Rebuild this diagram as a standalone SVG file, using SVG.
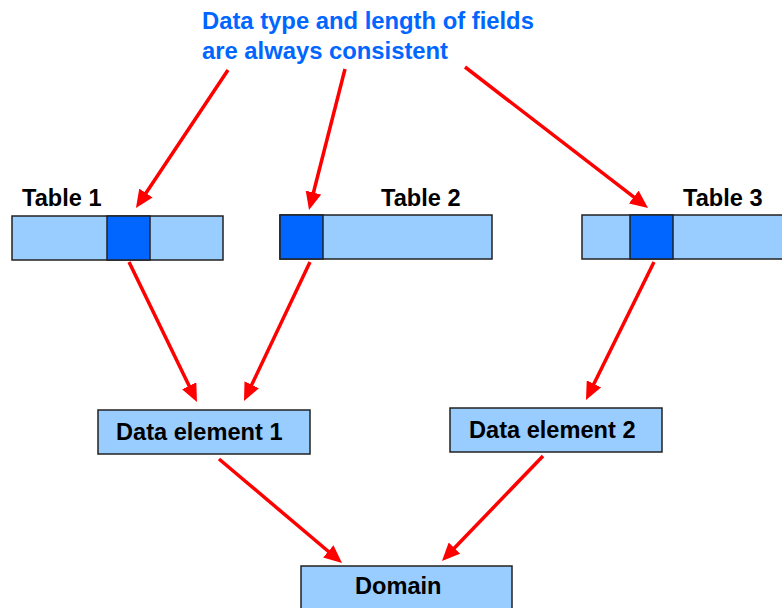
<svg xmlns="http://www.w3.org/2000/svg" width="782" height="608" viewBox="0 0 782 608">
<style>
  .lbl { font-family: "Liberation Sans", Arial, sans-serif; font-weight: bold; font-size: 23.6px; fill: #000; }
  .title { font-family: "Liberation Sans", Arial, sans-serif; font-weight: bold; font-size: 23.8px; fill: #0066FF; }
  .light { fill: #99CCFF; stroke: #222; stroke-width: 1.5; }
  .dark { fill: #0066FF; stroke: #222; stroke-width: 1.5; }
  .arrow { stroke: #FF0000; stroke-width: 3.5; fill: none; marker-end: url(#head); }
</style>
<defs>
  <marker id="head" markerUnits="userSpaceOnUse" markerWidth="18" markerHeight="16" viewBox="0 0 18 16" refX="8" refY="8" orient="auto">
    <path d="M0,0 L18,8 L0,16 z" fill="#FF0000"/>
  </marker>
</defs>
<rect width="782" height="608" fill="#fff"/>

<g id="title">
  <text class="title" x="202" y="29">Data type and length of fields</text>
  <text class="title" x="202" y="59">are always consistent</text>
</g>

<g id="table1">
  <text class="lbl" x="22" y="206">Table 1</text>
  <rect class="light" x="12" y="216" width="211" height="44"/>
  <rect class="dark" x="107" y="216" width="43" height="44"/>
</g>
<g id="table2">
  <text class="lbl" x="381" y="206">Table 2</text>
  <rect class="light" x="280" y="215" width="212" height="44"/>
  <rect class="dark" x="280" y="215" width="43" height="44"/>
</g>
<g id="table3">
  <text class="lbl" x="683" y="206">Table 3</text>
  <rect class="light" x="582" y="215" width="212" height="44"/>
  <rect class="dark" x="630" y="215" width="43" height="44"/>
</g>

<g id="dataelement1">
  <rect class="light" x="98" y="410" width="212" height="44"/>
  <text class="lbl" x="116" y="440">Data element 1</text>
</g>
<g id="dataelement2">
  <rect class="light" x="450" y="408" width="212" height="44"/>
  <text class="lbl" x="469" y="438">Data element 2</text>
</g>
<g id="domain">
  <rect class="light" x="301" y="566" width="211" height="50"/>
  <text class="lbl" x="355" y="594">Domain</text>
</g>

<g id="connectors">
  <line class="arrow" x1="228" y1="70" x2="141.5" y2="199.7"/>
  <line class="arrow" x1="345" y1="69" x2="311.5" y2="200.3"/>
  <line class="arrow" x1="465" y1="67" x2="640.1" y2="201.9"/>
  <line class="arrow" x1="129" y1="262" x2="192.6" y2="393"/>
  <line class="arrow" x1="310" y1="262" x2="248.3" y2="392"/>
  <line class="arrow" x1="654" y1="262" x2="590.4" y2="391"/>
  <line class="arrow" x1="219" y1="459" x2="334.4" y2="556.5"/>
  <line class="arrow" x1="543" y1="456" x2="448.9" y2="553.8"/>
</g>
</svg>
